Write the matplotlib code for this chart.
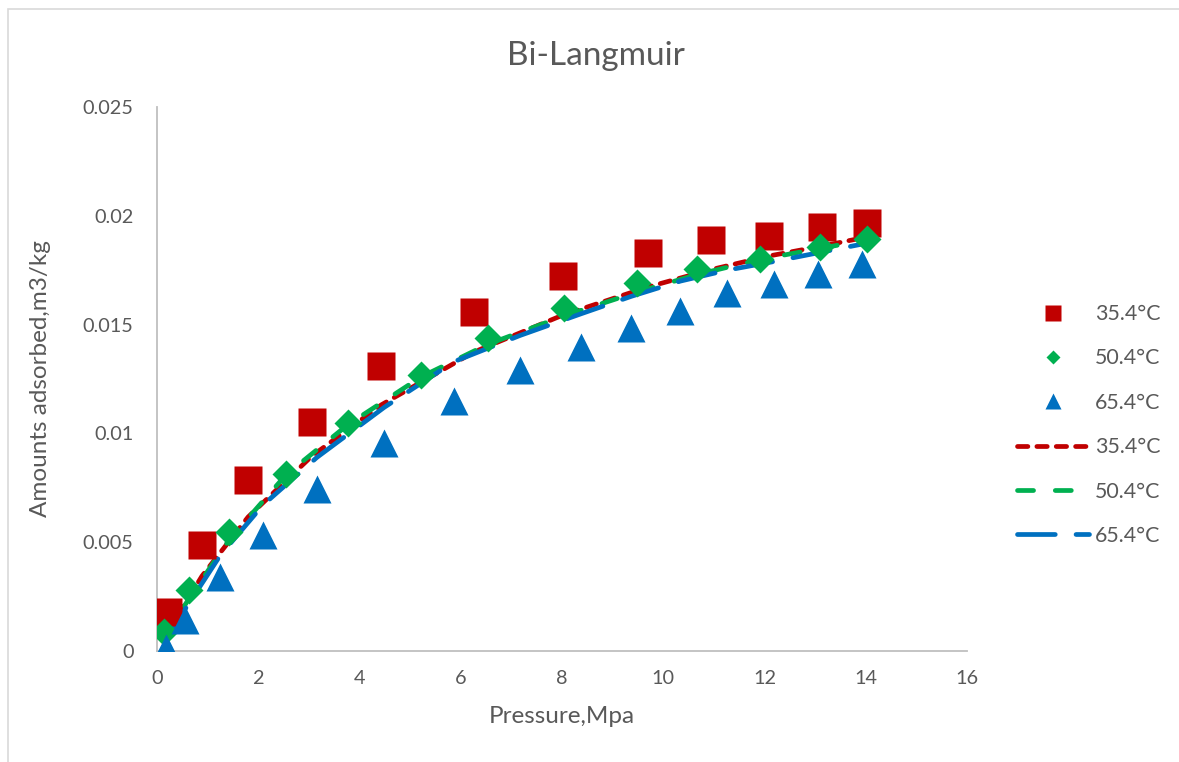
import matplotlib
matplotlib.use("Agg")
import matplotlib.pyplot as plt
from matplotlib.lines import Line2D
from matplotlib.patches import Rectangle

plt.rcParams['font.family'] = ['Lato', 'DejaVu Sans']

# ---- data ----
labels = ["35.4°C", "50.4°C", "65.4°C"]

x_354 = [0.22, 0.89, 1.80, 3.06, 4.43, 6.26, 8.02, 9.70, 10.95, 12.08, 13.14, 14.03]
y_354 = [0.00179, 0.00487, 0.00786, 0.01052, 0.01310, 0.01558, 0.01723, 0.01829,
         0.01889, 0.01907, 0.01949, 0.01967]
fit_354 = [0.0009, 0.00345, 0.00616, 0.00896, 0.01131, 0.01374, 0.01544, 0.01673,
           0.01753, 0.01815, 0.01861, 0.01903]

x_504 = [0.14, 0.63, 1.42, 2.55, 3.77, 5.22, 6.54, 8.04, 9.49, 10.67, 11.92, 13.10, 14.03]
y_504 = [0.00087, 0.00280, 0.00547, 0.00813, 0.01048, 0.01268, 0.01438, 0.01576,
         0.01691, 0.01756, 0.01801, 0.01857, 0.01893]
fit_504 = [0.0006, 0.0024, 0.0051, 0.0081, 0.0104, 0.0126, 0.0141, 0.0154,
           0.0165, 0.0173, 0.0180, 0.0185, 0.0189]

x_654 = [0.18, 0.55, 1.25, 2.09, 3.16, 4.49, 5.87, 7.17, 8.38, 9.37, 10.34, 11.26,
         12.19, 13.06, 13.93]
y_654 = [0.00014, 0.00142, 0.00340, 0.00533, 0.00744, 0.00956, 0.01149, 0.01291,
         0.01397, 0.01484, 0.01563, 0.01645, 0.01687, 0.01733, 0.01779]
fit_654 = [0.0005, 0.0019, 0.0044, 0.0067, 0.0089, 0.0112, 0.0133, 0.0145, 0.0155,
           0.0163, 0.0170, 0.0175, 0.0179, 0.0183, 0.0187]

x_ticks = [0, 2, 4, 6, 8, 10, 12, 14, 16]
y_ticks = [0, 0.005, 0.01, 0.015, 0.02, 0.025]
y_tick_labels = ["0", "0.005", "0.01", "0.015", "0.02", "0.025"]

RED = "#C00000"
GREEN = "#00B050"
BLUE = "#0070C0"
TXT = "#595959"
AX = "#BFBFBF"

W, H = 1179, 762
fig = plt.figure(figsize=(W / 100, H / 100), dpi=100)
ax = fig.add_axes([157 / W, 1 - 651 / H, (967 - 157) / W, (651 - 107) / H])

# chart area border
fig.patches.append(Rectangle((8 / W, -0.05), 1.2, 1 - 9 / H + 0.05, transform=fig.transFigure,
                             fill=False, edgecolor="#D9D9D9", linewidth=1.2, zorder=0))

lw = 3.4
ax.plot(x_354, fit_354, color=RED, lw=lw, dashes=(2.2, 1.9), dash_capstyle='round', zorder=2)
ax.plot(x_504, fit_504, color=GREEN, lw=lw, dashes=(3.4, 4.6), dash_capstyle='round', zorder=2.1)
ax.plot(x_654, fit_654, color=BLUE, lw=lw, dashes=(8.0, 4.4), dash_capstyle='round', zorder=2.2)

ax.plot(x_354, y_354, linestyle='none', marker='s', ms=20.5, color=RED, mec='none', zorder=3)
ax.plot(x_504, y_504, linestyle='none', marker='D', ms=14, color=GREEN, mec='none', zorder=3.1)
ax.plot(x_654, y_654, linestyle='none', marker='^', ms=20.5, color=BLUE, mec='none', zorder=3.2)

ax.set_xlim(0, 16)
ax.set_ylim(0, 0.025)
ax.set_xticks(x_ticks)
ax.set_xticklabels([str(t) for t in x_ticks])
ax.set_yticks(y_ticks)
ax.set_yticklabels(y_tick_labels)
ax.tick_params(axis='both', length=0, labelsize=14.3, labelcolor=TXT)
ax.tick_params(axis='y', pad=17)
ax.tick_params(axis='x', pad=14)
for s in ['top', 'right']:
    ax.spines[s].set_visible(False)
for s in ['left', 'bottom']:
    ax.spines[s].set_color(AX)
    ax.spines[s].set_linewidth(1.3)

ax.set_xlabel("Pressure,Mpa", fontsize=17.5, color=TXT)
ax.xaxis.set_label_coords(0.5, (651 - 706) / 544)
ax.set_ylabel("Amounts adsorbed,m3/kg", fontsize=17.5, color=TXT)
ax.yaxis.set_label_coords((51 - 157) / 810, 0.5)

fig.text(596 / W, 1 - 56 / H, "Bi-Langmuir", ha='center', va='center', fontsize=24, color=TXT)

handles = [
    Line2D([], [], linestyle='none', marker='s', ms=11, color=RED, mec='none'),
    Line2D([], [], linestyle='none', marker='D', ms=7.5, color=GREEN, mec='none'),
    Line2D([], [], linestyle='none', marker='^', ms=11, color=BLUE, mec='none'),
    Line2D([], [], color=RED, lw=lw, dashes=(2.2, 1.9), dash_capstyle='round'),
    Line2D([], [], color=GREEN, lw=lw, dashes=(3.4, 4.6), dash_capstyle='round'),
    Line2D([], [], color=BLUE, lw=lw, dashes=(8.0, 4.4), dash_capstyle='round'),
]
leg = fig.legend(handles, labels + labels, loc='center left',
                 bbox_to_anchor=(1017 / W, 1 - 425 / H), frameon=False, fontsize=15.4,
                 handlelength=3.35, handletextpad=0.3, labelspacing=1.14,
                 borderpad=0, borderaxespad=0)
for t in leg.get_texts():
    t.set_color(TXT)

fig.savefig("out.png", dpi=100)
